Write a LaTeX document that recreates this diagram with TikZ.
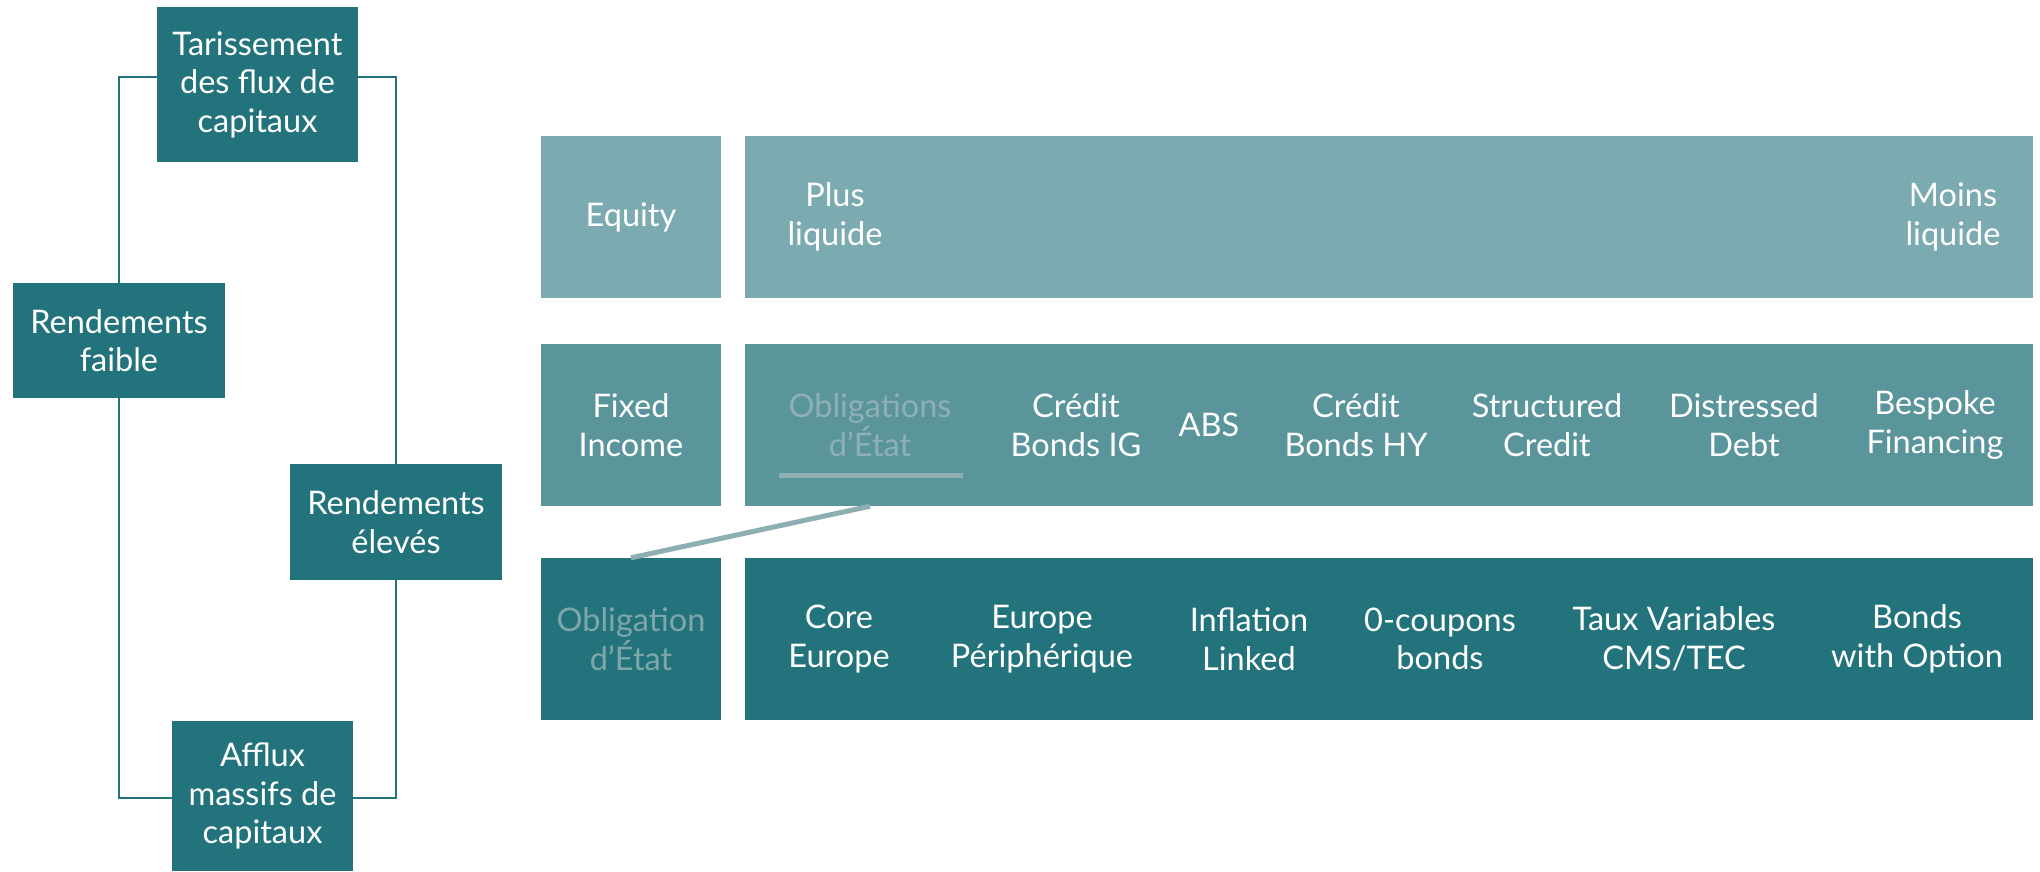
\documentclass[tikz,border=0pt]{standalone}
\usepackage{fontspec}
\setmainfont{Lato}
\definecolor{dark}{HTML}{22737B}
\definecolor{mid}{HTML}{5A959C}
\definecolor{light}{HTML}{7BAAB0}
\definecolor{greytxt}{HTML}{8FB0B4}
\definecolor{greytxtb}{HTML}{7FA6AB}
\definecolor{linkc}{HTML}{8DAEB2}
\begin{document}
\begin{tikzpicture}[x=1pt,y=-1pt,
  txt/.style={align=center,inner sep=0pt,text=white,font=\fontsize{32.5}{38.5}\selectfont},
  lbox/.style={txt,fill=dark,minimum width=#1},
  rowlab/.style={txt,minimum width=180pt,minimum height=162pt},
  rowbar/.style={inner sep=0pt,minimum width=1288pt,minimum height=162pt},
  item/.style={txt},
  conn/.style={draw=dark,line width=2pt},
  link/.style={draw=linkc,line width=5pt}]
\useasboundingbox (0,0) rectangle (2040,871);
% left cycle
\node[lbox=201pt,minimum height=155pt] (tar) at (257.5,84.5) {Tarissement\\des flux de\\capitaux};
\node[lbox=212pt,minimum height=115pt] (rf) at (119,340.5) {Rendements\\faible};
\node[lbox=212pt,minimum height=116pt] (re) at (396,522) {Rendements\\élevés};
\node[lbox=181pt,minimum height=150pt] (af) at (262.5,796) {Afflux\\massifs de\\capitaux};
\draw[conn] (tar.west |- 0,77) -| (rf.north);
\draw[conn] (tar.east |- 0,77) -| (re.north);
\draw[conn] (rf.south) |- (af.west |- 0,798);
\draw[conn] (re.south) |- (af.east |- 0,798);
% rows
\node[rowlab,fill=light] (eql) at (631,217) {Equity};
\node[rowbar,fill=light] (eqb) at (1389,217) {};
\node[rowlab,fill=mid] (fil) at (631,425) {Fixed\\Income};
\node[rowbar,fill=mid] (fib) at (1389,425) {};
\node[rowlab,fill=dark,text=greytxtb] (ogl) at (631,639) {Obligation\\d’État};
\node[rowbar,fill=dark] (ogb) at (1389,639) {};
% row 1 items
\node[item] (pl) at (835,217) {Plus\\liquide};
\node[item] (ml) at (1953,217) {Moins\\liquide};
% row 2 items
\node[item,text=greytxt] (ob) at (870,425) {Obligations\\d’État};
\node[item] (cig) at (1076,425) {Crédit\\Bonds IG};
\node[item] (abs) at (1209,425) {ABS};
\node[item] (chy) at (1356,425) {Crédit\\Bonds HY};
\node[item] (sc) at (1547,425) {Structured\\Credit};
\node[item] (dd) at (1744,425) {Distressed\\Debt};
\node[item] (bf) at (1935,425) {Bespoke\\Financing};
% row 3 items
\node[item] (ce) at (839,639) {Core\\Europe};
\node[item] (ep) at (1042,639) {Europe\\Périphérique};
\node[item] (il) at (1249,639) {Inflation\\Linked};
\node[item] (zc) at (1440,639) {0-coupons\\bonds};
\node[item] (tv) at (1674,639) {Taux Variables\\CMS/TEC};
\node[item] (bo) at (1917,639) {Bonds\\with Option};
% highlight
\draw[link] ([xshift=-91pt,yshift=-50pt]ob.center) -- ([xshift=93pt,yshift=-50pt]ob.center);
\draw[link] (ob.center |- fib.south) -- (ogl.north);
\end{tikzpicture}
\end{document}
